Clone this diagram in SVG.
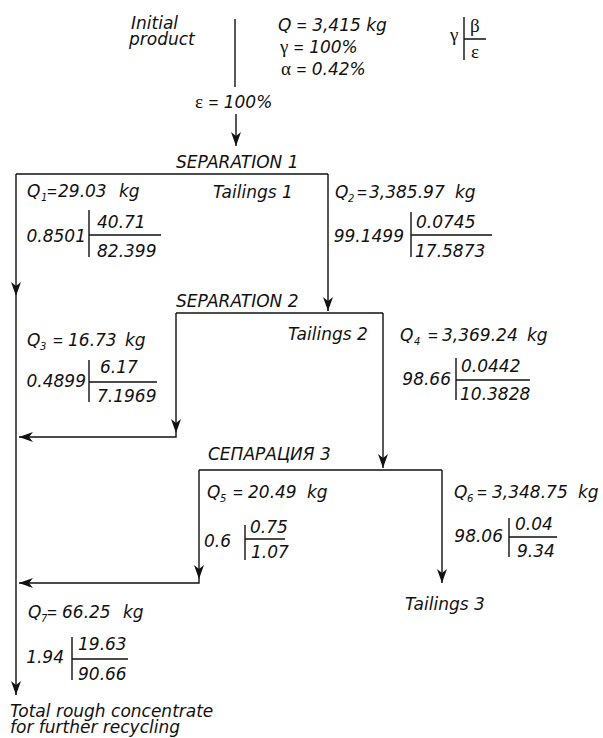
<svg xmlns="http://www.w3.org/2000/svg" width="603" height="738" viewBox="0 0 603 738">
<style>
.t{font-family:"DejaVu Sans","Liberation Sans",Arial,sans-serif;font-style:italic;font-size:17px;fill:#111}
.g{font-family:"Liberation Serif","Times New Roman",serif;font-style:normal;font-size:19px}
.eq{font-family:"Liberation Sans",Arial,sans-serif;font-style:normal}
.sub{font-size:10px}
.e{text-anchor:end}
.ln{stroke:#111;stroke-width:1.4;fill:none}
</style>
<defs>
<marker id="ah" viewBox="0 0 14 10" refX="14" refY="5" markerWidth="14" markerHeight="10" markerUnits="userSpaceOnUse" orient="auto">
<path d="M0,0 L14,5 L0,10 L4,5 z" fill="#111"/>
</marker>
</defs>
<rect width="603" height="738" fill="#fff"/>
<g id="connectors" class="ln">
<path d="M235,19 V87"/>
<path d="M236,114 V146" marker-end="url(#ah)"/>
<path d="M16,174 H328"/>
<path d="M16,174 V296" marker-end="url(#ah)"/>
<path d="M16,296 V695" marker-end="url(#ah)"/>
<path d="M328,174 V311" marker-end="url(#ah)"/>
<path d="M176,313 H383"/>
<path d="M176,313 V433" marker-end="url(#ah)"/>
<path d="M176,433 V437 H19" marker-end="url(#ah)"/>
<path d="M383,313 V468" marker-end="url(#ah)"/>
<path d="M199,470 H442"/>
<path d="M199,470 V579" marker-end="url(#ah)"/>
<path d="M199,579 V583 H19" marker-end="url(#ah)"/>
<path d="M442,470 V583" marker-end="url(#ah)"/>
</g>
<g id="initial">
<text class="t" x="131" y="29">Initial</text>
<text class="t" x="129" y="45">product</text>
<text class="t" x="278" y="31">Q <tspan class="eq">=</tspan> 3,415 kg</text>
<text class="t" x="280" y="53"><tspan class="g">γ</tspan> <tspan class="eq">=</tspan> 100%</text>
<text class="t" x="281" y="75"><tspan class="g">α</tspan> <tspan class="eq">=</tspan> 0.42%</text>
<text class="t" x="195" y="108"><tspan class="g">ε</tspan> <tspan class="eq">=</tspan> 100%</text>
</g>
<g id="legend">
<path class="ln" d="M464,17 V60 M464,39 H486"/>
<text class="t g" x="450" y="41">γ</text>
<text class="t g" x="470" y="32">β</text>
<text class="t g" x="471" y="58">ε</text>
</g>
<g id="sep1"><text class="t" x="176" y="168">SEPARATION 1</text></g>
<g id="tail1"><text class="t" x="213" y="198">Tailings 1</text></g>
<g id="q1">
<text class="t" x="27" y="197">Q<tspan class="sub" x="41" dy="4">1</tspan><tspan class="eq" x="47" dy="-4">=</tspan><tspan x="58">29.03</tspan><tspan x="119">kg</tspan></text>
<text class="t e" x="86" y="242">0.8501</text>
<path class="ln" d="M89,210 V257 M89,235 H161"/>
<text class="t" x="97" y="228">40.71</text>
<text class="t" x="97" y="257">82.399</text>
</g>
<g id="q2">
<text class="t" x="335" y="198">Q<tspan class="sub" x="348" dy="4">2</tspan><tspan class="eq" x="357" dy="-4">=</tspan><tspan x="369">3,385.97</tspan><tspan x="455">kg</tspan></text>
<text class="t e" x="404" y="242">99.1499</text>
<path class="ln" d="M411,212 V257 M411,235 H492"/>
<text class="t" x="416" y="228">0.0745</text>
<text class="t" x="415" y="257">17.5873</text>
</g>
<g id="sep2"><text class="t" x="176" y="307">SEPARATION 2</text></g>
<g id="tail2"><text class="t" x="288" y="340">Tailings 2</text></g>
<g id="q3">
<text class="t" x="27" y="346">Q<tspan class="sub" x="40" dy="4">3</tspan><tspan class="eq" x="53" dy="-4">=</tspan><tspan x="68">16.73</tspan><tspan x="125">kg</tspan></text>
<text class="t e" x="86" y="387">0.4899</text>
<path class="ln" d="M89,360 V402 M89,382 H157"/>
<text class="t" x="100" y="373">6.17</text>
<text class="t" x="97" y="402">7.1969</text>
</g>
<g id="q4">
<text class="t" x="400" y="341">Q<tspan class="sub" x="414" dy="4">4</tspan><tspan class="eq" x="428" dy="-4">=</tspan><tspan x="442">3,369.24</tspan><tspan x="527">kg</tspan></text>
<text class="t e" x="451" y="385">98.66</text>
<path class="ln" d="M456,358 V400 M456,380 H530"/>
<text class="t" x="461" y="372">0.0442</text>
<text class="t" x="460" y="400">10.3828</text>
</g>
<g id="sep3"><text class="t" x="208" y="460">СЕПАРАЦИЯ 3</text></g>
<g id="q5">
<text class="t" x="207" y="498">Q<tspan class="sub" x="220" dy="4">5</tspan><tspan class="eq" x="233" dy="-4">=</tspan><tspan x="248">20.49</tspan><tspan x="307">kg</tspan></text>
<text class="t e" x="231" y="547">0.6</text>
<path class="ln" d="M245,525 V560 M245,539 H285"/>
<text class="t" x="250" y="533">0.75</text>
<text class="t" x="251" y="558">1.07</text>
</g>
<g id="q6">
<text class="t" x="454" y="498">Q<tspan class="sub" x="467" dy="4">6</tspan><tspan class="eq" x="477" dy="-4">=</tspan><tspan x="492">3,348.75</tspan><tspan x="578">kg</tspan></text>
<text class="t e" x="503" y="542">98.06</text>
<path class="ln" d="M509,518 V557 M509,537 H557"/>
<text class="t" x="515" y="530">0.04</text>
<text class="t" x="517" y="557">9.34</text>
</g>
<g id="tail3"><text class="t" x="405" y="610">Tailings 3</text></g>
<g id="q7">
<text class="t" x="28" y="618">Q<tspan class="sub" x="41" dy="4">7</tspan><tspan class="eq" x="47" dy="-4">=</tspan><tspan x="62">66.25</tspan><tspan x="123">kg</tspan></text>
<text class="t e" x="64" y="663">1.94</text>
<path class="ln" d="M72,637 V680 M72,659 H128"/>
<text class="t" x="78" y="650">19.63</text>
<text class="t" x="78" y="680">90.66</text>
</g>
<g id="total">
<text class="t" x="10" y="717">Total rough concentrate</text>
<text class="t" x="10" y="733">for further recycling</text>
</g>
</svg>
